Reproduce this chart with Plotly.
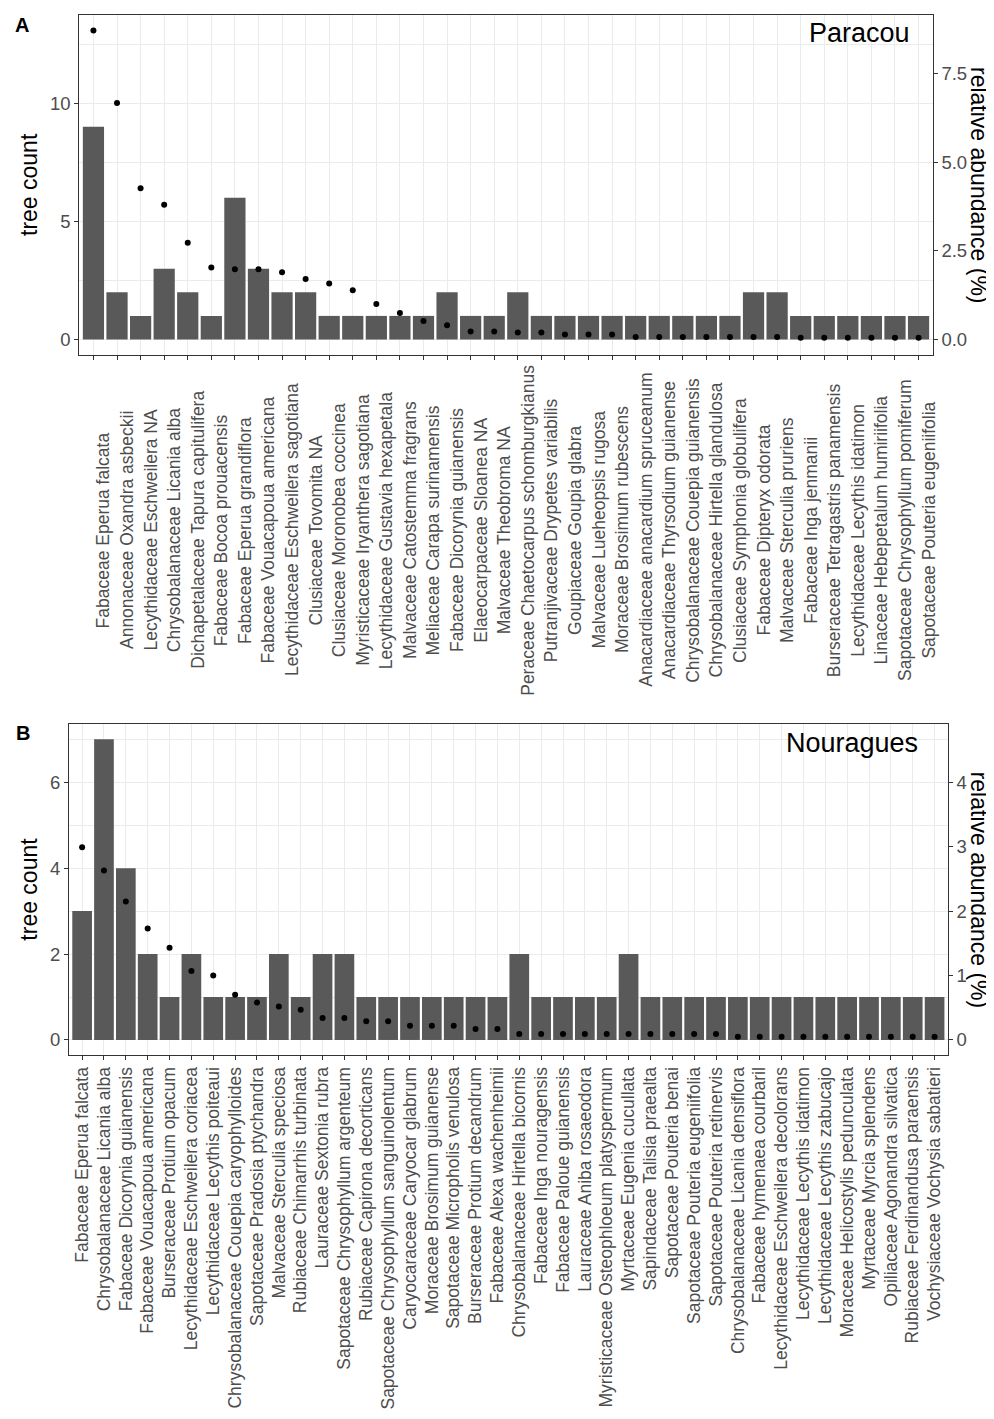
import plotly.graph_objects as go

# the page body has an 8px default margin; the figure is sized so that the
# visible window (994x1419) matches the reference
OFF = 8
W, H = 994 - OFF, 1419 - OFF

# ---------------- data ----------------
paracou_species = [
    "Fabaceae Eperua falcata", "Annonaceae Oxandra asbeckii", "Lecythidaceae Eschweilera NA",
    "Chrysobalanaceae Licania alba", "Dichapetalaceae Tapura capitulifera", "Fabaceae Bocoa prouacensis",
    "Fabaceae Eperua grandiflora", "Fabaceae Vouacapoua americana", "Lecythidaceae Eschweilera sagotiana",
    "Clusiaceae Tovomita NA", "Clusiaceae Moronobea coccinea", "Myristicaceae Iryanthera sagotiana",
    "Lecythidaceae Gustavia hexapetala", "Malvaceae Catostemma fragrans", "Meliaceae Carapa surinamensis",
    "Fabaceae Dicorynia guianensis", "Elaeocarpaceae Sloanea NA", "Malvaceae Theobroma NA",
    "Peraceae Chaetocarpus schomburgkianus", "Putranjivaceae Drypetes variabilis", "Goupiaceae Goupia glabra",
    "Malvaceae Lueheopsis rugosa", "Moraceae Brosimum rubescens", "Anacardiaceae anacardium spruceanum",
    "Anacardiaceae Thyrsodium guianense", "Chrysobalanaceae Couepia guianensis",
    "Chrysobalanaceae Hirtella glandulosa", "Clusiaceae Symphonia globulifera", "Fabaceae Dipteryx odorata",
    "Malvaceae Sterculia pruriens", "Fabaceae Inga jenmanii", "Burseraceae Tetragastris panamensis",
    "Lecythidaceae Lecythis idatimon", "Linaceae Hebepetalum humiriifolia",
    "Sapotaceae Chrysophyllum pomiferum", "Sapotaceae Pouteria eugeniifolia",
]
paracou_count = [9, 2, 1, 3, 2, 1, 6, 3, 2, 2, 1, 1, 1, 1, 1, 2, 1, 1, 2, 1,
                 1, 1, 1, 1, 1, 1, 1, 1, 2, 2, 1, 1, 1, 1, 1, 1]
paracou_relab = [8.72, 6.67, 4.27, 3.80, 2.73, 2.03, 1.98, 1.98, 1.90, 1.71,
                 1.58, 1.39, 1.00, 0.75, 0.52, 0.40, 0.23, 0.23, 0.20, 0.20,
                 0.14, 0.14, 0.14, 0.07, 0.07, 0.07, 0.07, 0.07, 0.07, 0.07,
                 0.05, 0.05, 0.05, 0.05, 0.05, 0.05]

nouragues_species = [
    "Fabaceae Eperua falcata", "Chrysobalanaceae Licania alba", "Fabaceae Dicorynia guianensis",
    "Fabaceae Vouacapoua americana", "Burseraceae Protium opacum", "Lecythidaceae Eschweilera coriacea",
    "Lecythidaceae Lecythis poiteaui", "Chrysobalanaceae Couepia caryophylloides",
    "Sapotaceae Pradosia ptychandra", "Malvaceae Sterculia speciosa", "Rubiaceae Chimarrhis turbinata",
    "Lauraceae Sextonia rubra", "Sapotaceae Chrysophyllum argenteum", "Rubiaceae Capirona decorticans",
    "Sapotaceae Chrysophyllum sanguinolentum", "Caryocaraceae Caryocar glabrum",
    "Moraceae Brosimum guianense", "Sapotaceae Micropholis venulosa", "Burseraceae Protium decandrum",
    "Fabaceae Alexa wachenheimii", "Chrysobalanaceae Hirtella bicornis", "Fabaceae Inga nouragensis",
    "Fabaceae Paloue guianensis", "Lauraceae Aniba rosaeodora", "Myristicaceae Osteophloeum platyspermum",
    "Myrtaceae Eugenia cucullata", "Sapindaceae Talisia praealta", "Sapotaceae Pouteria benai",
    "Sapotaceae Pouteria eugeniifolia", "Sapotaceae Pouteria retinervis",
    "Chrysobalanaceae Licania densiflora", "Fabaceae hymenaea courbaril",
    "Lecythidaceae Eschweilera decolorans", "Lecythidaceae Lecythis idatimon",
    "Lecythidaceae Lecythis zabucajo", "Moraceae Helicostylis pedunculata", "Myrtaceae Myrcia splendens",
    "Opiliaceae Agonandra silvatica", "Rubiaceae Ferdinandusa paraensis", "Vochysiaceae Vochysia sabatieri",
]
nouragues_count = [3, 7, 4, 2, 1, 2, 1, 1, 1, 2, 1, 2, 2, 1, 1, 1, 1, 1, 1, 1,
                   2, 1, 1, 1, 1, 2, 1, 1, 1, 1, 1, 1, 1, 1, 1, 1, 1, 1, 1, 1]
nouragues_relab = [2.99, 2.63, 2.15, 1.73, 1.43, 1.07, 1.00, 0.70, 0.58, 0.52,
                   0.47, 0.34, 0.34, 0.29, 0.29, 0.22, 0.22, 0.22, 0.17, 0.17,
                   0.094, 0.094, 0.094, 0.094, 0.094, 0.094, 0.094, 0.094, 0.094, 0.094,
                   0.05, 0.05, 0.05, 0.05, 0.05, 0.05, 0.05, 0.05, 0.05, 0.05]

paracou_ticks = [0, 5, 10]
paracou_ticks2 = [0.0, 2.5, 5.0, 7.5]
nouragues_ticks = [0, 2, 4, 6]
nouragues_ticks2 = [0, 1, 2, 3, 4]
SEC_FACTOR = 1.5  # tree count per % relative abundance

# ---------------- style ----------------
FONT = "Liberation Sans, Arial, sans-serif"
BAR = "#595959"
GRID = "#EBEBEB"
BORDER = "#333333"
TXT = "#4D4D4D"


def px_x(p):
    return (p - OFF) / W


def px_y(p):
    return 1 - (p - OFF) / H


# pixel geometry of the two panels (window coordinates)
A_box = dict(l=79.3, r=932.7, t=15, b=355)
B_box = dict(l=69, r=947.7, t=724.3, b=1055)


def yrange(counts, relab):
    ymax = max(max(counts), max(relab) * SEC_FACTOR)
    return [-0.05 * ymax, 1.05 * ymax]


rA = yrange(paracou_count, paracou_relab)
rB = yrange(nouragues_count, nouragues_relab)

fig = go.Figure()
fig.add_trace(go.Bar(x=paracou_species, y=paracou_count, marker=dict(color=BAR, line=dict(width=0)),
                     xaxis="x", yaxis="y", showlegend=False))
fig.add_trace(go.Scatter(x=paracou_species, y=paracou_relab, mode="markers",
                         marker=dict(color="black", size=6), xaxis="x", yaxis="y2", showlegend=False))
fig.add_trace(go.Bar(x=nouragues_species, y=nouragues_count, marker=dict(color=BAR, line=dict(width=0)),
                     xaxis="x2", yaxis="y3", showlegend=False))
fig.add_trace(go.Scatter(x=nouragues_species, y=nouragues_relab, mode="markers",
                         marker=dict(color="black", size=6), xaxis="x2", yaxis="y4", showlegend=False))

common_x = dict(type="category", showgrid=True, gridcolor=GRID, gridwidth=1.1,
                ticks="outside", ticklen=4, tickcolor=BORDER, tickwidth=1,
                showline=True, linecolor=BORDER, linewidth=1.2, mirror=True,
                zeroline=False, automargin=False, fixedrange=True)
common_y = dict(showgrid=True, gridcolor=GRID, gridwidth=1.1, zeroline=False,
                ticks="outside", ticklen=4, tickcolor=BORDER, tickwidth=1,
                showline=True, linecolor=BORDER, linewidth=1.2, mirror=True,
                tickfont=dict(family=FONT, size=18.5, color=TXT), automargin=False)
common_y2 = dict(showgrid=False, zeroline=False, side="right",
                 ticks="outside", ticklen=4, tickcolor=BORDER, tickwidth=1,
                 showline=False, tickfont=dict(family=FONT, size=18.5, color=TXT), automargin=False)

fig.update_layout(
    width=W, height=H,
    margin=dict(l=0, r=0, t=0, b=0),
    paper_bgcolor="white", plot_bgcolor="white",
    bargap=0.1,
    font=dict(family=FONT),
    xaxis=dict(common_x, domain=[px_x(A_box["l"]), px_x(A_box["r"])],
               categoryorder="array", categoryarray=paracou_species,
               range=[-0.6, len(paracou_species) - 0.4], showticklabels=False, anchor="y"),
    yaxis=dict(common_y, domain=[px_y(A_box["b"]), px_y(A_box["t"])], range=rA,
               tickvals=paracou_ticks, ticktext=[str(v) for v in paracou_ticks], anchor="x",
               minor=dict(dtick=2.5, tick0=0, showgrid=True, gridcolor=GRID, gridwidth=0.6, ticks="")),
    yaxis2=dict(common_y2, overlaying="y", anchor="x", range=[v / SEC_FACTOR for v in rA],
                tickvals=paracou_ticks2, ticktext=[f"{v:.1f}" for v in paracou_ticks2]),
    xaxis2=dict(common_x, domain=[px_x(B_box["l"]), px_x(B_box["r"])],
                categoryorder="array", categoryarray=nouragues_species,
                range=[-0.6, len(nouragues_species) - 0.4], showticklabels=True, tickangle=-90,
                tickfont=dict(family=FONT, size=17.5, color=TXT), anchor="y3"),
    yaxis3=dict(common_y, domain=[px_y(B_box["b"]), px_y(B_box["t"])], range=rB,
                tickvals=nouragues_ticks, ticktext=[str(v) for v in nouragues_ticks], anchor="x2",
                minor=dict(dtick=1, tick0=0, showgrid=True, gridcolor=GRID, gridwidth=0.6, ticks="")),
    yaxis4=dict(common_y2, overlaying="y3", anchor="x2", range=[v / SEC_FACTOR for v in rB],
                tickvals=nouragues_ticks2, ticktext=[str(v) for v in nouragues_ticks2]),
)

ann = []
# panel A category labels (centred under the axis)
for sp in paracou_species:
    ann.append(dict(x=sp, xref="x", y=px_y(530), yref="paper", text=sp, showarrow=False,
                    textangle=-90, xanchor="center", yanchor="middle", xshift=10,
                    font=dict(family=FONT, size=17.5, color=TXT)))

# axis titles
for box in (A_box, B_box):
    cy = (box["t"] + box["b"]) / 2
    ann.append(dict(x=px_x(29), y=px_y(cy), xref="paper", yref="paper", text="tree count",
                    showarrow=False, textangle=-90, xanchor="center", yanchor="middle",
                    font=dict(family=FONT, size=23, color="black")))
    ann.append(dict(x=px_x(979), y=px_y(cy), xref="paper", yref="paper", text="relative abundance (%)",
                    showarrow=False, textangle=90, xanchor="center", yanchor="middle",
                    font=dict(family=FONT, size=23, color="black")))

# panel tags and site names
ann.append(dict(x=px_x(13), y=px_y(25), xref="paper", yref="paper", text="<b>A</b>", showarrow=False,
                xanchor="left", yanchor="middle", font=dict(family=FONT, size=20, color="black")))
ann.append(dict(x=px_x(14), y=px_y(733), xref="paper", yref="paper", text="<b>B</b>", showarrow=False,
                xanchor="left", yanchor="middle", font=dict(family=FONT, size=20, color="black")))
ann.append(dict(x=px_x(912), y=px_y(33), xref="paper", yref="paper", text="Paracou", showarrow=False,
                xanchor="right", yanchor="middle", font=dict(family=FONT, size=27, color="black")))
ann.append(dict(x=px_x(920), y=px_y(743), xref="paper", yref="paper", text="Nouragues", showarrow=False,
                xanchor="right", yanchor="middle", font=dict(family=FONT, size=27, color="black")))

fig.update_layout(annotations=ann)
fig.write_html("out.html")
